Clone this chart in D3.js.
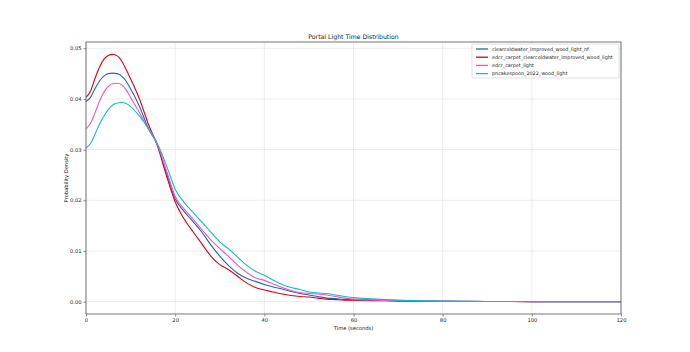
<!DOCTYPE html>
<html>
<head>
<meta charset="utf-8">
<script src="https://cdn.jsdelivr.net/npm/d3@7"></script>
<style>
  body { margin: 0; background: #fff; }
  text { font-family: "DejaVu Sans", sans-serif; fill: #222; }
</style>
</head>
<body>
<div id="chart"></div>
<script>
// time grid (seconds)
const times = [0,1,2,3,4,5,6,7,8,9,10,12,14,16,18,20,22,24,26,28,30,32,34,36,38,40,42,44,46,48,50,52,54,56,58,60,65,70,75,80,90,100,110,120];

const seriesNames = [
  "clearcoldwater_improved_wood_light_nf",
  "edcr_carpet_clearcoldwater_improved_wood_light",
  "edcr_carpet_light",
  "pncakespoon_2022_wood_light"
];
const seriesColors = ["#1f66b5", "#e0000f", "#f055c8", "#10bcd0"];

const blueVals = [0.0395,0.0403,0.0420,0.0435,0.0445,0.0450,0.0451,0.0450,0.0445,0.0435,0.0420,0.0385,0.0342,0.0310,0.0255,0.0203,0.0178,0.0158,0.0137,0.0112,0.0090,0.0071,0.0056,0.0046,0.0040,0.0034,0.0029,0.0025,0.0020,0.0016,0.0013,0.0010,0.0007,0.0006,0.0004,0.0004,0.0003,0.0002,0.00012,0.00008,0.00003,0.00001,0,0];
const redVals = [0.0403,0.0415,0.0440,0.0462,0.0478,0.0486,0.0488,0.0485,0.0475,0.0458,0.0440,0.0400,0.0350,0.0308,0.0250,0.0197,0.0163,0.0138,0.0114,0.0090,0.0073,0.0063,0.0050,0.0037,0.0028,0.0023,0.0019,0.0015,0.0012,0.0010,0.0009,0.0007,0.0005,0.0004,0.0003,0.0003,0.0002,0.0001,0.00008,0.00005,0.00002,0.00001,0,0];
const pinkVals = [0.0341,0.0352,0.0372,0.0395,0.0413,0.0425,0.0430,0.0431,0.0428,0.0418,0.0403,0.0373,0.0340,0.0310,0.0260,0.0208,0.0183,0.0163,0.0142,0.0122,0.0105,0.0089,0.0072,0.0058,0.0047,0.0042,0.0035,0.0028,0.0022,0.0018,0.0016,0.0015,0.0013,0.0010,0.0007,0.0005,0.0003,0.0002,0.00012,0.00008,0.00003,0.00001,0,0];
const cyanVals = [0.0303,0.0312,0.0330,0.0350,0.0366,0.0379,0.0388,0.0392,0.0393,0.0391,0.0385,0.0366,0.0342,0.0312,0.0270,0.0222,0.0196,0.0176,0.0157,0.0137,0.0118,0.0104,0.0088,0.0072,0.0060,0.0052,0.0042,0.0034,0.0028,0.0024,0.0019,0.0017,0.0016,0.0013,0.0010,0.0008,0.0005,0.0003,0.0002,0.0001,0.00004,0.00001,0,0];

const xTicks = [0, 20, 40, 60, 80, 100, 120];
const yTicks = [0.00, 0.01, 0.02, 0.03, 0.04, 0.05];

const allSeries = [blueVals, redVals, pinkVals, cyanVals];

const width = 690, height = 352;
const margin = { top: 42, right: 69, bottom: 38, left: 86 };
const innerW = width - margin.left - margin.right;
const innerH = height - margin.top - margin.bottom;

const svg = d3.select("#chart")
  .append("svg")
  .attr("width", width)
  .attr("height", height);

const x = d3.scaleLinear().domain([0, 120]).range([0, innerW]);
const y = d3.scaleLinear().domain([-0.00244, 0.05124]).range([innerH, 0]);

const g = svg.append("g").attr("transform", `translate(${margin.left},${margin.top})`);

// grid
g.append("g")
  .selectAll("line")
  .data(xTicks)
  .enter()
  .append("line")
  .attr("x1", d => x(d)).attr("x2", d => x(d))
  .attr("y1", 0).attr("y2", innerH)
  .style("stroke", "#b0b0b0").style("stroke-opacity", 0.3).style("stroke-width", 0.8);
g.append("g")
  .selectAll("line")
  .data(yTicks)
  .enter()
  .append("line")
  .attr("x1", 0).attr("x2", innerW)
  .attr("y1", d => y(d)).attr("y2", d => y(d))
  .style("stroke", "#b0b0b0").style("stroke-opacity", 0.3).style("stroke-width", 0.8);

// axes
const xAxis = g.append("g")
  .attr("transform", `translate(0,${innerH})`)
  .call(d3.axisBottom(x).tickValues(xTicks).tickSize(2.5).tickPadding(2).tickFormat(d3.format("d")));
const yAxis = g.append("g")
  .call(d3.axisLeft(y).tickValues(yTicks).tickSize(2.5).tickPadding(2).tickFormat(d3.format(".2f")));
[xAxis, yAxis].forEach(a => {
  a.select(".domain").remove();
  a.selectAll("line").style("stroke", "#444").style("stroke-width", 0.6);
  a.selectAll("text").style("font-size", "5.2px").style("fill", "#222");
});

// lines
const line = d3.line()
  .x((d, i) => x(times[i]))
  .y(d => y(d))
  .curve(d3.curveMonotoneX);

g.append("g")
  .selectAll("path")
  .data(allSeries)
  .enter()
  .append("path")
  .attr("d", d => line(d))
  .style("fill", "none")
  .style("stroke", (d, i) => seriesColors[i])
  .style("stroke-width", 1.1);

// frame
g.append("rect")
  .attr("width", innerW).attr("height", innerH)
  .style("fill", "none").style("stroke", "#555").style("stroke-width", 0.8);

// title and labels
svg.append("text")
  .attr("x", margin.left + innerW / 2).attr("y", 39)
  .attr("text-anchor", "middle")
  .style("font-size", "6.2px")
  .text("Portal Light Time Distribution");
svg.append("text")
  .attr("x", margin.left + innerW / 2).attr("y", 330)
  .attr("text-anchor", "middle")
  .style("font-size", "5.2px")
  .text("Time (seconds)");
svg.append("text")
  .attr("transform", `translate(68,${margin.top + innerH / 2}) rotate(-90)`)
  .attr("text-anchor", "middle")
  .style("font-size", "5.2px")
  .text("Probability Density");

// legend
const legend = g.append("g").attr("transform", `translate(${innerW - 149},2)`);
legend.append("rect")
  .attr("width", 147).attr("height", 34).attr("rx", 1.5)
  .style("fill", "#fff").style("fill-opacity", 0.8)
  .style("stroke", "#ccc").style("stroke-width", 0.6);
const items = legend.selectAll(".item")
  .data(seriesNames)
  .enter()
  .append("g")
  .attr("class", "item")
  .attr("transform", (d, i) => `translate(4,${5 + i * 8.2})`);
items.append("line")
  .attr("x1", 0).attr("x2", 12)
  .style("stroke", (d, i) => seriesColors[i])
  .style("stroke-width", 1.3);
items.append("text")
  .attr("x", 16).attr("y", 1.8)
  .style("font-size", "4.85px")
  .text(d => d);
</script>
</body>
</html>
